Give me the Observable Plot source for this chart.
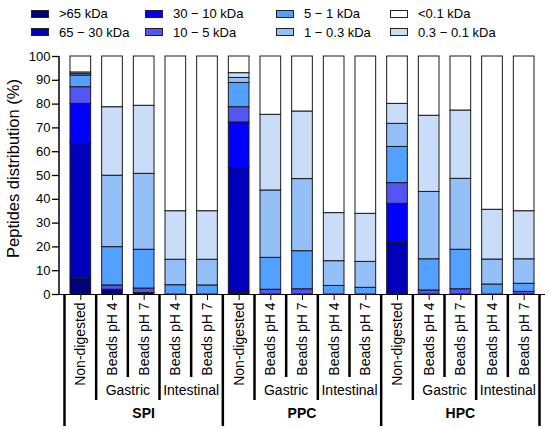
<!DOCTYPE html>
<html><head><meta charset="utf-8">
<script src="https://cdn.jsdelivr.net/npm/d3@7"></script>
<script src="https://cdn.jsdelivr.net/npm/@observablehq/plot@0.6"></script>
<style>
body{margin:0;background:#fff;font-family:"Liberation Sans",Arial,sans-serif;color:#000;}
#legend{position:relative;width:550px;height:42px;font-size:13px;}
.item{position:absolute;display:flex;align-items:center;height:16px;white-space:nowrap;}
.sw{width:16px;height:6px;border:1px solid #222;margin-right:10px;flex:none;}
</style></head><body>
<div id="legend"></div><div id="chart"></div>
<script>
// size classes, bottom to top of each bar
const sizeClasses = [">65 kDa","65 − 30 kDa","30 − 10 kDa","10 − 5 kDa","5 − 1 kDa","1 − 0.3 kDa","0.3 − 0.1 kDa","<0.1 kDa"];
const classColors = ["#00007a","#0000bb","#0000ff","#5555f5","#52a0ff","#94bff7","#c9ddf8","#ffffff"];
const legendOrder = [">65 kDa","65 − 30 kDa","30 − 10 kDa","10 − 5 kDa","5 − 1 kDa","1 − 0.3 kDa","<0.1 kDa","0.3 − 0.1 kDa"];
const proteins = ["SPI","PPC","HPC"];
const samples = ["Non-digested","Beads pH 4","Beads pH 7","Beads pH 4","Beads pH 7"];
const phases = ["Gastric","Intestinal"];
// % per size class (order of sizeClasses) for each sample
const spiValues = [
  [6.6, 56.7, 16.8, 7.0, 4.9, 0.6, 0.7, 6.7],
  [2.0, 0, 0, 1.8, 16.1, 30.0, 28.8, 21.3],
  [0.6, 0, 0, 1.9, 16.3, 31.9, 28.6, 20.7],
  [0, 0, 0, 0, 3.9, 10.7, 20.4, 65.0],
  [0, 0, 0, 0, 3.8, 10.8, 20.4, 65.0]
];
const ppcValues = [
  [0.8, 52.3, 19.2, 6.4, 10.2, 2.1, 2.0, 7.0],
  [0, 0, 0, 2.0, 13.4, 28.3, 31.8, 24.5],
  [0, 0, 0, 2.2, 16.0, 30.3, 28.4, 23.1],
  [0, 0, 0, 0, 3.6, 10.4, 20.2, 65.8],
  [0, 0, 0, 0, 2.8, 10.9, 20.2, 66.1]
];
const hpcValues = [
  [0.3, 21.4, 16.4, 8.7, 15.2, 9.7, 8.4, 19.9],
  [0, 0, 0, 1.7, 13.1, 28.3, 32.0, 24.9],
  [0, 0, 0, 2.2, 16.6, 29.8, 28.7, 22.7],
  [0, 0, 0, 0, 4.2, 10.5, 20.9, 64.4],
  [0, 0, 0, 1.1, 3.4, 10.3, 20.2, 65.0]
];
const yTicks = [0,10,20,30,40,50,60,70,80,90,100];
const yLabel = "Peptides distribution (%)";

// legend
const legend = document.getElementById("legend");
const colLeft = [31, 145, 276, 390];
legendOrder.forEach((c, i) => {
  const col = Math.floor(i / 2), row = i % 2;
  const it = document.createElement("div");
  it.className = "item";
  it.style.left = colLeft[col] + "px";
  it.style.top = (row === 0 ? 5.5 : 24) + "px";
  const sw = document.createElement("span");
  sw.className = "sw";
  sw.style.background = classColors[sizeClasses.indexOf(c)];
  it.appendChild(sw);
  it.appendChild(document.createTextNode(c));
  legend.appendChild(it);
});

const allValues = [spiValues, ppcValues, hpcValues];
const keys = [];
const rows = [];
proteins.forEach((p, pi) => samples.forEach((s, si) => {
  const key = p + "|" + si;
  keys.push(key);
  sizeClasses.forEach((c, ci) => rows.push({key, cls: c, value: allValues[pi][si][ci]}));
}));
const labelOf = k => samples[+k.split("|")[1]];

const chart = Plot.plot({
  width: 550, height: 387,
  marginTop: 14, marginBottom: 135, marginLeft: 59, marginRight: 5,
  style: {fontFamily: "Liberation Sans, Arial, sans-serif", color: "#000", background: "#fff"},
  x: {domain: keys, padding: 0.347, round: false, axis: null},
  y: {domain: [0, 100], axis: null},
  color: {domain: sizeClasses, range: classColors},
  marks: [
    Plot.barY(rows, {x: "key", y: "value", fill: "cls", stroke: "#1a1a1a", strokeWidth: 1}),
    Plot.axisX({tickFormat: labelOf, tickRotate: -90, tickSize: 6, tickPadding: 2, fontSize: 14, label: null, stroke: "#000", strokeWidth: 1}),
    Plot.axisY({ticks: yTicks, tickSize: 7, tickPadding: 2, fontSize: 13, label: null, stroke: "#000", strokeWidth: 1.3}),
    Plot.ruleY([0], {stroke: "#000", strokeWidth: 1.2}),
    Plot.text([yLabel], {frameAnchor: "left", textAnchor: "middle", rotate: -90, dx: -46, dy: -7, fontSize: 16.5, fill: "#000"})
  ]
});

// annotations derived from Plot's own scales
const xs = chart.scale("x"), ys = chart.scale("y");
const svg = d3.select(chart);
const g = svg.append("g");
const y0 = ys.apply(0), y100 = ys.apply(100);
g.append("line").attr("x1", 59).attr("x2", 59).attr("y1", y0).attr("y2", y100).attr("stroke", "#000").attr("stroke-width", 1.5);
const bw = xs.bandwidth, gap = xs.step - xs.bandwidth;
const boundary = k => k < keys.length ? xs.apply(keys[k]) - gap / 2 : xs.apply(keys[keys.length - 1]) + bw + gap / 2;
for (let k = 0; k <= keys.length; k++) {
  const m = k % 5;
  const len = m === 0 ? 132 : (m === 1 || m === 3) ? 106 : 83;
  g.append("line").attr("x1", boundary(k)).attr("x2", boundary(k))
    .attr("y1", y0).attr("y2", y0 + len).attr("stroke", "#000").attr("stroke-width", 2.5);
}
const center = (a, b) => (xs.apply(keys[a]) + xs.apply(keys[b]) + bw) / 2;
proteins.forEach((p, pi) => {
  const b = pi * 5;
  [[1, 2], [3, 4]].forEach((pair, j) => {
    g.append("text").attr("x", center(b + pair[0], b + pair[1])).attr("y", y0 + 101)
      .attr("text-anchor", "middle").attr("font-size", 14).attr("fill", "#000").text(phases[j]);
  });
  g.append("text").attr("x", center(b, b + 4)).attr("y", y0 + 124)
    .attr("text-anchor", "middle").attr("font-size", 14).attr("font-weight", "bold").attr("fill", "#000").text(p);
});
document.getElementById("chart").appendChild(chart);
</script>
</body></html>
